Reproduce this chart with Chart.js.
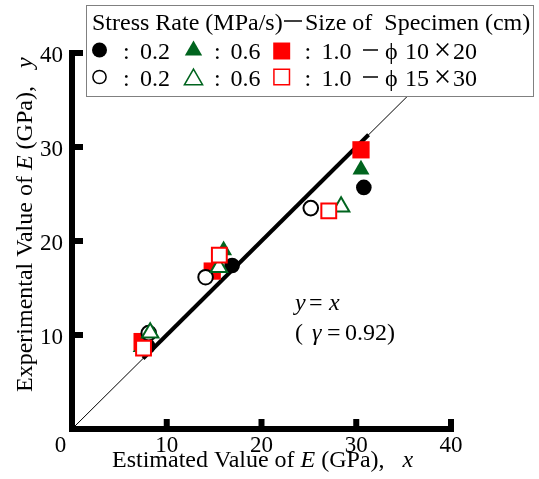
<!DOCTYPE html>
<html><head><meta charset="utf-8">
<script src="https://cdn.jsdelivr.net/npm/chart.js@4"></script>
<style>html,body{margin:0;padding:0;background:#fff;}#wrap{width:539px;height:479px;position:relative;}</style>
</head><body><div id="wrap"><canvas id="c" width="539" height="479"></canvas></div>
<script>
// ---- data ----
const xTicks = [0, 10, 20, 30, 40];
const yTicks = [0, 10, 20, 30, 40];
const refLine = [{x: 0, y: 0}, {x: 40, y: 40}];          // y = x
const fitLine = [{x: 7.5, y: 7.5}, {x: 31.3, y: 31.3}];  // fitted range
// stress rate 0.2 / 0.6 / 1.0 MPa/s, specimen φ10×20 (filled)
const filled02 = [{x: 8.0, y: 8.8}, {x: 16.9, y: 17.4}, {x: 30.8, y: 25.7}];
const filled06 = [{x: 7.3, y: 8.7}, {x: 16.0, y: 19.0}, {x: 30.5, y: 27.6}];
const filled10 = [{x: 7.4, y: 9.3}, {x: 14.8, y: 16.8}, {x: 30.5, y: 29.7}];
// specimen φ15×30 (open)
const open02 = [{x: 8.1, y: 10.2}, {x: 14.1, y: 16.15}, {x: 25.2, y: 23.5}];
const open06 = [{x: 8.25, y: 10.25}, {x: 15.5, y: 17.2}, {x: 28.4, y: 23.65}];
const open10 = [{x: 7.55, y: 8.6}, {x: 15.55, y: 18.5}, {x: 27.1, y: 23.2}];

const GREEN = '#00641e', RED = '#ff0000', BLACK = '#000000';
const SERIF = '"Liberation Serif", "Times New Roman", serif';

function txt(ctx, s, x, y, italic, size, family) {
  ctx.font = (italic ? 'italic ' : '') + (size || 24) + 'px ' + (family || SERIF);
  ctx.fillText(s, x, y);
  return x + ctx.measureText(s).width;
}
function marker(ctx, style, r, x, y, fill, stroke, bw) {
  ctx.save();
  ctx.fillStyle = fill; ctx.strokeStyle = stroke; ctx.lineWidth = bw;
  Chart.helpers.drawPoint(ctx, {pointStyle: style, radius: r, borderWidth: bw, rotation: 0}, x, y);
  ctx.restore();
}

const decor = {
  id: 'decor',
  afterDatasetsDraw(chart) {
    const {ctx, scales: {x, y}} = chart;
    const x0 = x.getPixelForValue(0), x1 = x.getPixelForValue(40);
    const y0 = y.getPixelForValue(0), y1 = y.getPixelForValue(40);
    ctx.save();
    // axes
    ctx.strokeStyle = '#000'; ctx.lineWidth = 6; ctx.lineCap = 'square'; ctx.lineJoin = 'miter';
    ctx.beginPath(); ctx.moveTo(x0, y1); ctx.lineTo(x0, y0); ctx.lineTo(x1, y0); ctx.stroke();
    ctx.lineCap = 'butt';
    for (const v of xTicks) {
      if (v === 0) continue;
      const px = x.getPixelForValue(v);
      ctx.beginPath(); ctx.moveTo(px, y0); ctx.lineTo(px, y0 - 10); ctx.stroke();
    }
    for (const v of yTicks) {
      if (v === 0) continue;
      const py = y.getPixelForValue(v);
      ctx.beginPath(); ctx.moveTo(x0, py); ctx.lineTo(x0 + 11, py); ctx.stroke();
    }
    ctx.fillStyle = '#000'; ctx.textBaseline = 'alphabetic'; ctx.textAlign = 'left';
    // x title
    let px = txt(ctx, 'Estimated Value of ', 112, 467);
    px = txt(ctx, 'E', px, 467, true);
    px = txt(ctx, ' (GPa),   ', px, 467);
    txt(ctx, 'x', px, 467, true);
    // y title
    ctx.save();
    ctx.translate(31.5, 392); ctx.rotate(-Math.PI / 2);
    px = txt(ctx, 'Experimental Value of ', 0, 0);
    px = txt(ctx, 'E', px, 0, true);
    px = txt(ctx, ' (GPa),   ', px, 0);
    txt(ctx, 'y', px, 0, true);
    ctx.restore();
    // annotation
    txt(ctx, 'y', 295, 310, true);
    txt(ctx, '=', 309, 310);
    txt(ctx, 'x', 329, 310, true);
    txt(ctx, '(', 295, 340);
    txt(ctx, 'γ', 312, 340, true);
    txt(ctx, '=', 327, 340);
    txt(ctx, '0.92)', 345, 340);
    // legend box
    ctx.fillStyle = '#fff'; ctx.fillRect(86, 5, 448, 92);
    ctx.strokeStyle = '#808080'; ctx.lineWidth = 1; ctx.strokeRect(86.5, 5.5, 447, 91);
    ctx.fillStyle = '#000';
    txt(ctx, 'Stress Rate (MPa/s)', 92, 30);
    txt(ctx, 'Size of  Specimen (cm)', 305, 30);
    ctx.strokeStyle = '#000'; ctx.lineWidth = 1.5;
    ctx.beginPath(); ctx.moveTo(284, 21); ctx.lineTo(302, 21); ctx.stroke();
    const rows = [
      {yc: 50, base: 58.5, size: '10', sz2: '20', open: false},
      {yc: 77, base: 86, size: '15', sz2: '30', open: true}
    ];
    for (const r of rows) {
      if (!r.open) {
        marker(ctx, 'circle', 7.5, 99.5, r.yc, BLACK, BLACK, 0);
        marker(ctx, 'triangle', 10, 193.5, r.yc + 0.5, GREEN, GREEN, 0);
        marker(ctx, 'rect', 12, 281.7, r.yc + 1, RED, RED, 0);
      } else {
        marker(ctx, 'circle', 6.6, 99.5, r.yc, '#fff', BLACK, 1.5);
        marker(ctx, 'triangle', 10.5, 193.5, r.yc + 2.5, '#fff', GREEN, 1.5);
        marker(ctx, 'rect', 11, 281.7, r.yc, '#fff', RED, 1.5);
      }
      ctx.fillStyle = '#000';
      txt(ctx, ':', 123, r.base); txt(ctx, '0.2', 140, r.base);
      txt(ctx, ':', 214, r.base); txt(ctx, '0.6', 230.5, r.base);
      txt(ctx, ':', 304.5, r.base); txt(ctx, '1.0', 321.5, r.base);
      ctx.strokeStyle = '#000'; ctx.lineWidth = 1.5;
      ctx.beginPath(); ctx.moveTo(363, r.yc); ctx.lineTo(378, r.yc); ctx.stroke();
      txt(ctx, 'ϕ', 385, r.base);
      txt(ctx, r.size, 405, r.base);
      ctx.textAlign = 'center';
      txt(ctx, '×', 442.5, r.base + 1, false, 31);
      ctx.textAlign = 'left';
      txt(ctx, r.sz2, 453, r.base);
    }
    ctx.restore();
  }
};

const tickFont = {family: SERIF, size: 23};
new Chart(document.getElementById('c'), {
  type: 'scatter',
  data: {
    datasets: [
      {data: refLine, showLine: true, borderColor: '#000', borderWidth: 1, pointRadius: 0, order: 20},
      {data: fitLine, showLine: true, borderColor: '#000', borderWidth: 4, pointRadius: 0, order: 19},
      {label: '0.2 φ10×20', data: filled02, pointStyle: 'circle', pointRadius: 7.8, backgroundColor: BLACK, borderColor: BLACK, borderWidth: 0, order: 9},
      {label: '0.6 φ10×20', data: filled06, pointStyle: 'triangle', pointRadius: 9.8, backgroundColor: GREEN, borderColor: GREEN, borderWidth: 0, order: 8},
      {label: '1.0 φ10×20', data: filled10, pointStyle: 'rect', pointRadius: 12.2, backgroundColor: RED, borderColor: RED, borderWidth: 0, order: 7},
      {label: '0.2 φ15×30', data: open02, pointStyle: 'circle', pointRadius: 7.3, backgroundColor: '#fff', borderColor: BLACK, borderWidth: 2, order: 6},
      {label: '0.6 φ15×30', data: open06, pointStyle: 'triangle', pointRadius: 9.5, backgroundColor: '#fff', borderColor: GREEN, borderWidth: 2, order: 5},
      {label: '1.0 φ15×30', data: open10, pointStyle: 'rect', pointRadius: 10.5, backgroundColor: '#fff', borderColor: RED, borderWidth: 2, order: 4}
    ]
  },
  options: {
    responsive: false, animation: false, devicePixelRatio: 1,
    layout: {padding: {left: 0, right: 88, top: 53, bottom: 0}},
    plugins: {legend: {display: false}, tooltip: {enabled: false}},
    elements: {point: {hoverRadius: 0}},
    scales: {
      x: {
        type: 'linear', min: 0, max: 40,
        afterFit: s => { s.height = 50; },
        afterBuildTicks: s => { s.ticks = xTicks.map(v => ({value: v})); },
        grid: {display: false, drawTicks: false},
        border: {display: false},
        ticks: {font: tickFont, color: '#000', padding: 3, maxRotation: 0, autoSkip: false,
                callback: v => v === 0 ? '0    ' : String(v)}
      },
      y: {
        type: 'linear', min: 0, max: 40,
        afterFit: s => { s.width = 72; },
        afterBuildTicks: s => { s.ticks = yTicks.map(v => ({value: v})); },
        grid: {display: false, drawTicks: false},
        border: {display: false},
        ticks: {font: tickFont, color: '#000', padding: 9, autoSkip: false, labelOffset: 3,
                callback: v => v === 0 ? '' : String(v)}
      }
    }
  },
  plugins: [decor]
});
</script>
</body></html>
